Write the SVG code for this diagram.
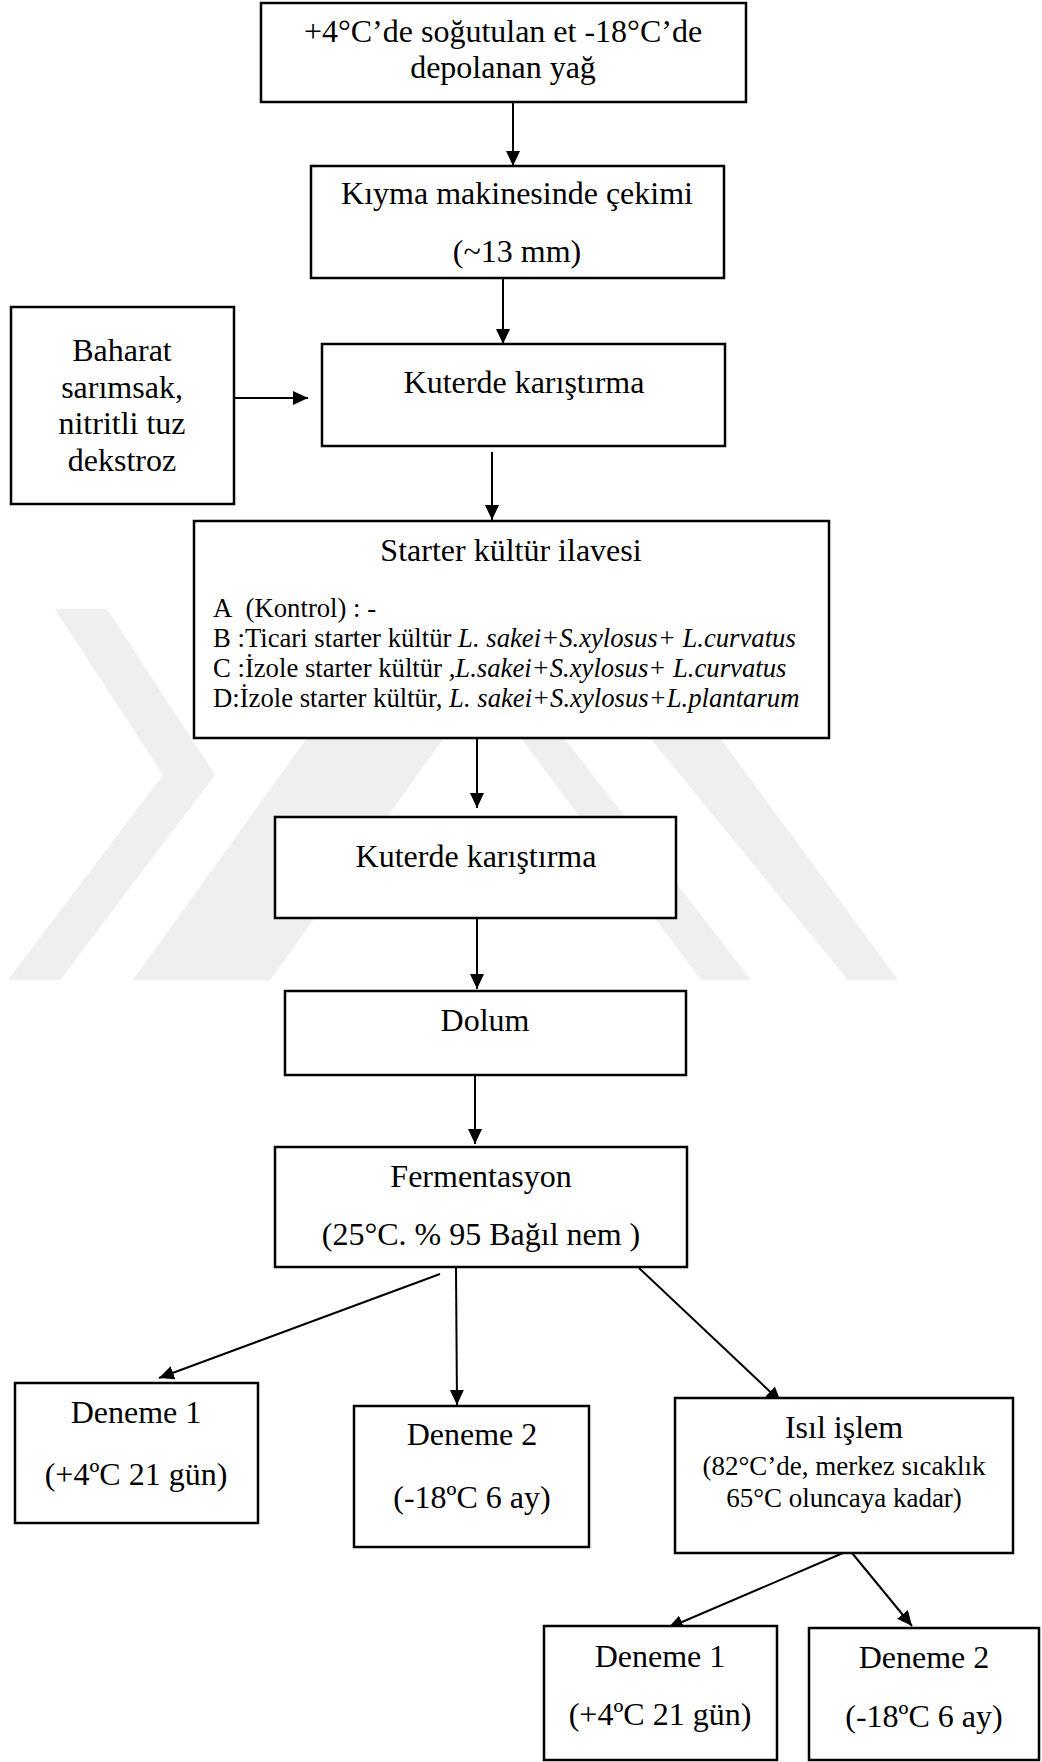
<svg xmlns="http://www.w3.org/2000/svg" width="1042" height="1762" viewBox="0 0 1042 1762">
<style>
.box{fill:#fff;stroke:#000;stroke-width:2.5}
.t{font-family:"Liberation Serif","Times New Roman",serif;font-size:32px;fill:#000;text-anchor:middle}
.s{font-family:"Liberation Serif","Times New Roman",serif;font-size:26.7px;fill:#000}
.sc{text-anchor:middle;font-size:27px}
.c{stroke:#000;stroke-width:2;fill:none;marker-end:url(#ah)}
.wm{fill:#efefef}
</style>
<defs>
<marker id="ah" markerUnits="userSpaceOnUse" markerWidth="16" markerHeight="16" refX="15" refY="7" orient="auto">
<path d="M0,0 L15,7 L0,14 z" fill="#000"/>
</marker>
</defs>
<rect width="1042" height="1762" fill="#fff"/>
<g id="watermark">
<polygon class="wm" points="55,609 107,609 215,775 60,980 8,980 163,775"/>
<polygon class="wm" points="133,980 270,980 444,738 307,738"/>
<polygon class="wm" points="521,738 564,738 751,980 701,980"/>
<polygon class="wm" points="650,738 720,738 898,980 848,980"/>
</g>
<g id="connectors">
<line class="c" x1="513" y1="103" x2="513" y2="166"/>
<line class="c" x1="503" y1="279" x2="503" y2="344"/>
<line class="c" x1="235" y1="398" x2="308" y2="398"/>
<line class="c" x1="492" y1="452" x2="492" y2="520"/>
<line class="c" x1="477" y1="739" x2="477" y2="808"/>
<line class="c" x1="477" y1="919" x2="477" y2="989"/>
<line class="c" x1="475" y1="1076" x2="475" y2="1144"/>
<line class="c" x1="440" y1="1274" x2="159" y2="1378"/>
<line class="c" x1="456" y1="1268" x2="457" y2="1405"/>
<line class="c" x1="639" y1="1268" x2="781" y2="1402"/>
<line class="c" x1="843" y1="1553" x2="668" y2="1628"/>
<line class="c" x1="852" y1="1553" x2="912" y2="1626"/>
</g>
<g id="n1">
<rect class="box" x="261" y="3" width="485" height="99"/>
<text class="t" x="503" y="42">+4°C’de soğutulan et -18°C’de</text>
<text class="t" x="503" y="78">depolanan yağ</text>
</g>
<g id="n2">
<rect class="box" x="311" y="166" width="413" height="112"/>
<text class="t" x="517" y="204">Kıyma makinesinde çekimi</text>
<text class="t" x="517" y="262">(~13 mm)</text>
</g>
<g id="n3">
<rect class="box" x="11" y="307" width="223" height="197"/>
<text class="t" x="122" y="361">Baharat</text>
<text class="t" x="122" y="398">sarımsak,</text>
<text class="t" x="122" y="434">nitritli tuz</text>
<text class="t" x="122" y="471">dekstroz</text>
</g>
<g id="n4">
<rect class="box" x="322" y="344" width="403" height="102"/>
<text class="t" x="524" y="393">Kuterde karıştırma</text>
</g>
<g id="n5">
<rect class="box" x="194" y="521" width="635" height="217"/>
<text class="t" x="511" y="561">Starter kültür ilavesi</text>
<text class="s" x="213" y="617">A&#160; (Kontrol) : -</text>
<text class="s" x="213" y="647">B :Ticari starter kültür <tspan font-style="italic">L. sakei+S.xylosus+ L.curvatus</tspan></text>
<text class="s" x="213" y="677">C :İzole starter kültür ,<tspan font-style="italic">L.sakei+S.xylosus+ L.curvatus</tspan></text>
<text class="s" x="213" y="707">D:İzole starter kültür, <tspan font-style="italic">L. sakei+S.xylosus+L.plantarum</tspan></text>
</g>
<g id="n6">
<rect class="box" x="275" y="817" width="401" height="101"/>
<text class="t" x="476" y="867">Kuterde karıştırma</text>
</g>
<g id="n7">
<rect class="box" x="285" y="991" width="401" height="84"/>
<text class="t" x="485" y="1031">Dolum</text>
</g>
<g id="n8">
<rect class="box" x="275" y="1147" width="412" height="120"/>
<text class="t" x="481" y="1187">Fermentasyon</text>
<text class="t" x="481" y="1245">(25°C. % 95 Bağıl nem )</text>
</g>
<g id="n9">
<rect class="box" x="15" y="1383" width="243" height="140"/>
<text class="t" x="136" y="1423">Deneme 1</text>
<text class="t" x="136" y="1485">(+4ºC 21 gün)</text>
</g>
<g id="n10">
<rect class="box" x="354" y="1406" width="235" height="141"/>
<text class="t" x="472" y="1445">Deneme 2</text>
<text class="t" x="472" y="1508">(-18ºC 6 ay)</text>
</g>
<g id="n11">
<rect class="box" x="675" y="1398" width="338" height="155"/>
<text class="t" x="844" y="1438">Isıl işlem</text>
<text class="s sc" x="844" y="1475">(82°C’de, merkez sıcaklık</text>
<text class="s sc" x="844" y="1507">65°C oluncaya kadar)</text>
</g>
<g id="n12">
<rect class="box" x="544" y="1626" width="233" height="134"/>
<text class="t" x="660" y="1667">Deneme 1</text>
<text class="t" x="660" y="1725">(+4ºC 21 gün)</text>
</g>
<g id="n13">
<rect class="box" x="809" y="1628" width="230" height="132"/>
<text class="t" x="924" y="1668">Deneme 2</text>
<text class="t" x="924" y="1727">(-18ºC 6 ay)</text>
</g>
</svg>
